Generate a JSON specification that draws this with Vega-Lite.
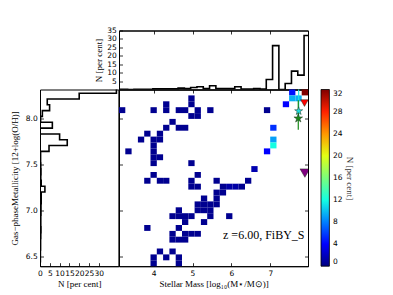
{
"$schema":"https://vega.github.io/schema/vega-lite/v6.json",
"padding":{"left":10,"top":25.5,"right":0,"bottom":0},
"config":{
 "view":{"stroke":"black","strokeWidth":1},
 "axis":{"grid":false,"domainColor":"black","domainWidth":1,"tickColor":"black","tickSize":-3.5,"tickWidth":0.8,"labelColor":"black","labelFont":"DejaVu Sans","labelFontSize":7.5,"labelPadding":6.3,"labelFlush":false,"labelOverlap":false,"titleFont":"Liberation Serif","titleFontSize":9,"titleFontWeight":"normal","titleColor":"black"}
},
"datasets":{
 "cells":[
  {"m":7.484,"m2":7.646,"z":8.253,"z2":8.317,"p":4.5},{"m":7.808,"m2":7.970,"z":8.253,"z2":8.317,"p":32},
  {"m":4.892,"m2":5.054,"z":8.189,"z2":8.253,"p":0.5},{"m":7.484,"m2":7.646,"z":8.189,"z2":8.253,"p":9.5},{"m":7.646,"m2":7.808,"z":8.189,"z2":8.253,"p":9.5},
  {"m":4.244,"m2":4.406,"z":8.125,"z2":8.189,"p":0.5},{"m":4.892,"m2":5.054,"z":8.125,"z2":8.189,"p":0.5},{"m":7.322,"m2":7.484,"z":8.125,"z2":8.189,"p":4},
  {"m":3.110,"m2":3.272,"z":8.061,"z2":8.125,"p":0.5},{"m":3.920,"m2":4.082,"z":8.061,"z2":8.125,"p":0.5},{"m":4.244,"m2":4.406,"z":8.061,"z2":8.125,"p":0.5},{"m":4.568,"m2":4.730,"z":8.061,"z2":8.125,"p":0.5},{"m":4.730,"m2":4.892,"z":8.061,"z2":8.125,"p":0.5},{"m":5.054,"m2":5.216,"z":8.061,"z2":8.125,"p":0.5},{"m":5.378,"m2":5.540,"z":8.061,"z2":8.125,"p":0.5},{"m":6.836,"m2":6.998,"z":8.061,"z2":8.125,"p":0.5},
  {"m":4.892,"m2":5.054,"z":7.998,"z2":8.061,"p":0.5},{"m":5.054,"m2":5.216,"z":7.998,"z2":8.061,"p":0.5},
  {"m":4.406,"m2":4.568,"z":7.934,"z2":7.998,"p":0.5},
  {"m":4.244,"m2":4.406,"z":7.870,"z2":7.934,"p":0.5},{"m":4.568,"m2":4.730,"z":7.870,"z2":7.934,"p":0.5},{"m":4.730,"m2":4.892,"z":7.870,"z2":7.934,"p":0.5},{"m":6.998,"m2":7.160,"z":7.870,"z2":7.934,"p":5.5},
  {"m":3.758,"m2":3.920,"z":7.806,"z2":7.870,"p":0.5},{"m":4.082,"m2":4.244,"z":7.806,"z2":7.870,"p":0.5},
  {"m":3.596,"m2":3.758,"z":7.742,"z2":7.806,"p":0.5},{"m":3.920,"m2":4.082,"z":7.742,"z2":7.806,"p":0.5},{"m":4.082,"m2":4.244,"z":7.742,"z2":7.806,"p":0.5},{"m":6.998,"m2":7.160,"z":7.742,"z2":7.806,"p":9},
  {"m":3.920,"m2":4.082,"z":7.678,"z2":7.742,"p":0.5},{"m":6.998,"m2":7.160,"z":7.678,"z2":7.742,"p":12},
  {"m":3.272,"m2":3.434,"z":7.614,"z2":7.678,"p":0.5},{"m":3.920,"m2":4.082,"z":7.614,"z2":7.678,"p":0.5},{"m":6.836,"m2":6.998,"z":7.614,"z2":7.678,"p":4},
  {"m":3.920,"m2":4.082,"z":7.550,"z2":7.614,"p":0.5},{"m":4.082,"m2":4.244,"z":7.550,"z2":7.614,"p":0.5},
  {"m":3.920,"m2":4.082,"z":7.486,"z2":7.550,"p":0.5},{"m":4.892,"m2":5.054,"z":7.486,"z2":7.550,"p":0.5},
  {"m":6.512,"m2":6.674,"z":7.422,"z2":7.486,"p":1.5},
  {"m":3.920,"m2":4.082,"z":7.359,"z2":7.422,"p":0.5},{"m":5.054,"m2":5.216,"z":7.359,"z2":7.422,"p":0.5},
  {"m":3.758,"m2":3.920,"z":7.295,"z2":7.359,"p":0.5},{"m":4.082,"m2":4.244,"z":7.295,"z2":7.359,"p":0.5},{"m":4.244,"m2":4.406,"z":7.295,"z2":7.359,"p":0.5},{"m":4.892,"m2":5.054,"z":7.295,"z2":7.359,"p":0.5},{"m":5.540,"m2":5.702,"z":7.295,"z2":7.359,"p":0.5},{"m":6.350,"m2":6.512,"z":7.295,"z2":7.359,"p":0.5},
  {"m":4.892,"m2":5.054,"z":7.231,"z2":7.295,"p":0.5},{"m":5.054,"m2":5.216,"z":7.231,"z2":7.295,"p":0.5},{"m":5.702,"m2":5.864,"z":7.231,"z2":7.295,"p":0.5},{"m":5.864,"m2":6.026,"z":7.231,"z2":7.295,"p":1.2},{"m":6.026,"m2":6.188,"z":7.231,"z2":7.295,"p":1.2},{"m":6.188,"m2":6.350,"z":7.231,"z2":7.295,"p":0.5},
  {"m":5.540,"m2":5.702,"z":7.167,"z2":7.231,"p":0.5},{"m":5.702,"m2":5.864,"z":7.167,"z2":7.231,"p":0.5},
  {"m":5.216,"m2":5.378,"z":7.103,"z2":7.167,"p":0.5},{"m":5.540,"m2":5.702,"z":7.103,"z2":7.167,"p":0.5},
  {"m":5.054,"m2":5.216,"z":7.039,"z2":7.103,"p":0.5},{"m":5.216,"m2":5.378,"z":7.039,"z2":7.103,"p":0.5},{"m":5.378,"m2":5.540,"z":7.039,"z2":7.103,"p":0.5},{"m":5.540,"m2":5.702,"z":7.039,"z2":7.103,"p":0.5},
  {"m":4.568,"m2":4.730,"z":6.975,"z2":7.039,"p":0.5},{"m":5.054,"m2":5.216,"z":6.975,"z2":7.039,"p":0.5},{"m":5.216,"m2":5.378,"z":6.975,"z2":7.039,"p":0.5},{"m":5.378,"m2":5.540,"z":6.975,"z2":7.039,"p":0.5},
  {"m":4.406,"m2":4.568,"z":6.911,"z2":6.975,"p":0.5},{"m":4.568,"m2":4.730,"z":6.911,"z2":6.975,"p":0.5},{"m":4.730,"m2":4.892,"z":6.911,"z2":6.975,"p":0.5},{"m":4.892,"m2":5.054,"z":6.911,"z2":6.975,"p":0.5},{"m":5.378,"m2":5.540,"z":6.911,"z2":6.975,"p":0.5},{"m":5.864,"m2":6.026,"z":6.911,"z2":6.975,"p":0.5},
  {"m":4.730,"m2":4.892,"z":6.847,"z2":6.911,"p":0.5},{"m":5.216,"m2":5.378,"z":6.847,"z2":6.911,"p":0.5},
  {"m":3.758,"m2":3.920,"z":6.783,"z2":6.847,"p":0.5},{"m":4.568,"m2":4.730,"z":6.783,"z2":6.847,"p":0.5},
  {"m":4.406,"m2":4.568,"z":6.720,"z2":6.783,"p":0.5},{"m":4.730,"m2":4.892,"z":6.720,"z2":6.783,"p":0.5},{"m":4.892,"m2":5.054,"z":6.720,"z2":6.783,"p":0.5},{"m":5.054,"m2":5.216,"z":6.720,"z2":6.783,"p":0.5},
  {"m":4.406,"m2":4.568,"z":6.656,"z2":6.720,"p":0.5},{"m":4.568,"m2":4.730,"z":6.656,"z2":6.720,"p":0.5},{"m":4.730,"m2":4.892,"z":6.656,"z2":6.720,"p":0.5},
  {"m":4.082,"m2":4.244,"z":6.528,"z2":6.592,"p":0.5},{"m":4.406,"m2":4.568,"z":6.528,"z2":6.592,"p":0.5},
  {"m":3.920,"m2":4.082,"z":6.464,"z2":6.528,"p":0.5},{"m":4.244,"m2":4.406,"z":6.464,"z2":6.528,"p":0.5},{"m":4.568,"m2":4.730,"z":6.464,"z2":6.528,"p":0.5},
  {"m":3.920,"m2":4.082,"z":6.400,"z2":6.464,"p":0.5},{"m":4.568,"m2":4.730,"z":6.400,"z2":6.464,"p":0.5}
 ],
 "tophist":[
  {"m":3.009,"n":0.1},{"m":3.171,"n":0.1},{"m":3.333,"n":0},{"m":3.495,"n":0.1},{"m":3.657,"n":0.1},{"m":3.819,"n":0.1},
  {"m":3.981,"n":0.4},{"m":4.143,"n":0.4},{"m":4.305,"n":0.4},{"m":4.467,"n":0.4},{"m":4.629,"n":0.8},{"m":4.791,"n":0.5},
  {"m":4.953,"n":1.2},{"m":5.115,"n":1.6},{"m":5.277,"n":0.5},{"m":5.439,"n":2.2},{"m":5.601,"n":0.6},{"m":5.763,"n":0.6},
  {"m":5.925,"n":0.6},{"m":6.087,"n":1.6},{"m":6.249,"n":0.2},{"m":6.411,"n":0.2},{"m":6.573,"n":0.6},{"m":6.735,"n":0.2},
  {"m":6.897,"n":5.9},{"m":7.059,"n":26},{"m":7.221,"n":0},{"m":7.383,"n":3.6},{"m":7.545,"n":10.9},{"m":7.707,"n":8.5},
  {"m":7.869,"n":32},{"m":8.031,"n":0}
 ],
 "lefthist":[
  {"z":8.340,"n":39},{"z":8.277,"n":20},{"z":8.214,"n":3.7},{"z":8.151,"n":4.9},{"z":8.088,"n":1.2},{"z":8.025,"n":0.3},
  {"z":7.962,"n":6.3},{"z":7.898,"n":0},{"z":7.835,"n":10},{"z":7.772,"n":13.9},{"z":7.709,"n":4.6},{"z":7.646,"n":0.3},
  {"z":7.583,"n":0.3},{"z":7.520,"n":0.4},{"z":7.457,"n":0.5},{"z":7.394,"n":0.4},{"z":7.331,"n":0.6},{"z":7.268,"n":2.5},
  {"z":7.205,"n":0.6},{"z":7.142,"n":0.6},{"z":7.079,"n":0.5},{"z":7.016,"n":0.5},{"z":6.953,"n":0.4},{"z":6.890,"n":0.4},
  {"z":6.827,"n":0.5},{"z":6.764,"n":0.4},{"z":6.701,"n":0.3},{"z":6.638,"n":0.3},{"z":6.575,"n":0.2},{"z":6.512,"n":0.2},
  {"z":6.449,"n":0.1},{"z":6.386,"n":0}
 ],
 "obs":[
  {"src":"a","m":7.88,"z":8.17,"lo":null,"hi":null},
  {"src":"b","m":7.73,"z":8.083,"lo":8.02,"hi":8.40},
  {"src":"c","m":7.72,"z":8.004,"lo":7.88,"hi":8.20},
  {"src":"d","m":7.89,"z":7.41,"lo":null,"hi":null}
 ],
 "label":[{"m":7.88,"z":6.69,"text":"z =6.00, FiBY_S"}]
},
"columns":2,"spacing":0,"bounds":"flush","align":"each",
"resolve":{"legend":{"fill":"independent"}},
"concat":[
 {"width":78.4,"height":59,"view":{"stroke":null},"data":{"values":[{}]},"mark":{"type":"point","opacity":0},"encoding":{}},
 {"width":189,"height":59,"data":{"name":"tophist"},
  "mark":{"type":"line","interpolate":"step-after","clip":true,"color":"black","strokeWidth":1.6},
  "encoding":{
   "x":{"field":"m","type":"quantitative","scale":{"domain":[3.11,7.97],"nice":false,"zero":false},"axis":{"orient":"top","labels":false,"title":null,"values":[4,5,6,7]}},
   "y":{"field":"n","type":"quantitative","scale":{"domain":[0,35],"nice":false},"axis":{"values":[5,10,15,20,25,30,35],"title":"N [per cent]","titlePadding":3}},
   "order":{"field":"m"}
  }},
 {"width":78.4,"height":176.7,"data":{"name":"lefthist"},
  "mark":{"type":"line","interpolate":"step-before","clip":true,"color":"black","strokeWidth":1.6},
  "encoding":{
   "x":{"field":"n","type":"quantitative","scale":{"domain":[0,40],"nice":false},"axis":{"values":[0,5,10,15,20,25,30],"title":"N [per cent]","titlePadding":3}},
   "y":{"field":"z","type":"quantitative","scale":{"domain":[6.40,8.317],"nice":false,"zero":false},"axis":{"values":[6.5,7.0,7.5,8.0],"format":".1f","title":"Gas−phaseMetallicity [12+log(O/H)]","titlePadding":5.5}},
   "order":{"field":"z","sort":"descending"}
  }},
 {"width":189,"height":176.7,
  "resolve":{"axis":{"x":"independent","y":"independent"}},
  "layer":[
   {"data":{"name":"cells"},"mark":{"type":"rect"},
    "encoding":{
     "x":{"field":"m","type":"quantitative","scale":{"domain":[3.11,7.97],"nice":false,"zero":false},"axis":{"values":[4,5,6,7],"format":"d","title":"Stellar Mass [log₁₀(M⋆/M⊙)]","titlePadding":3}},
     "x2":{"field":"m2"},
     "y":{"field":"z","type":"quantitative","scale":{"domain":[6.40,8.317],"nice":false,"zero":false},"axis":{"values":[6.5,7.0,7.5,8.0],"labels":false,"title":null}},
     "y2":{"field":"z2"},
     "fill":{"field":"p","type":"quantitative",
       "scale":{"domain":[0,4,8,12,16,20,24,28,32],"range":["#000080","#0000ff","#0080ff","#14ffe2","#7bff7b","#e2ff14","#ff9700","#ff2100","#800000"],"interpolate":"rgb"},
       "legend":{"orient":"right","offset":11.6,"padding":0,"direction":"vertical","gradientLength":176.7,"gradientThickness":8.4,"gradientStrokeColor":"black","gradientStrokeWidth":0.8,"values":[0,4,8,12,16,20,24,28,32],"labelFont":"DejaVu Sans","labelFontSize":7.5,"labelOffset":3.5,"labelColor":"black","labelBaseline":"middle","labelOverlap":false,"title":"N [per cent]","titleOrient":"right","titleAnchor":"middle","titleAngle":270,"titleFont":"Liberation Serif","titleFontSize":9,"titleFontWeight":"normal","titleColor":"#333","titlePadding":3}}
    }},
   {"data":{"name":"obs"},"transform":[{"filter":"datum.lo != null"}],"mark":{"type":"rule","strokeWidth":1.2,"clip":true},
    "encoding":{
     "x":{"field":"m","type":"quantitative","axis":null},
     "y":{"field":"lo","type":"quantitative","axis":null},
     "y2":{"field":"hi"},
     "color":{"field":"src","type":"nominal","scale":{"domain":["a","b","c","d"],"range":["#ff0000","#22e0e0","#1a8a1a","#800080"]},"legend":null}
    }},
   {"data":{"name":"obs"},"mark":{"type":"point","filled":true,"opacity":1,"stroke":"#203020","strokeWidth":0.5,"clip":true},
    "encoding":{
     "x":{"field":"m","type":"quantitative","axis":null},
     "y":{"field":"z","type":"quantitative","axis":null},
     "shape":{"field":"src","type":"nominal","scale":{"domain":["a","b","c","d"],"range":["triangle-down","M0,-1L0.2245,-0.309L0.9511,-0.309L0.3633,0.118L0.5878,0.809L0,0.382L-0.5878,0.809L-0.3633,0.118L-0.9511,-0.309L-0.2245,-0.309Z","M0,-1L0.2245,-0.309L0.9511,-0.309L0.3633,0.118L0.5878,0.809L0,0.382L-0.5878,0.809L-0.3633,0.118L-0.9511,-0.309L-0.2245,-0.309Z","triangle-down"]},"legend":null},
     "color":{"field":"src","type":"nominal","scale":{"domain":["a","b","c","d"],"range":["#ff0000","#22e0e0","#1a8a1a","#800080"]},"legend":null},
     "size":{"field":"src","type":"ordinal","scale":{"domain":["a","b","c","d"],"range":[60,95,85,60]},"legend":null}
    }},
   {"data":{"name":"label"},"mark":{"type":"text","align":"right","baseline":"alphabetic","font":"Liberation Serif","fontSize":12,"color":"black"},
    "encoding":{
     "x":{"field":"m","type":"quantitative","axis":{"orient":"top","labels":false,"title":null,"values":[4,5,6,7]}},
     "y":{"field":"z","type":"quantitative","axis":{"orient":"right","labels":false,"title":null,"values":[6.5,7.0,7.5,8.0]}},
     "text":{"field":"text"}
    }}
  ]}
]
}
